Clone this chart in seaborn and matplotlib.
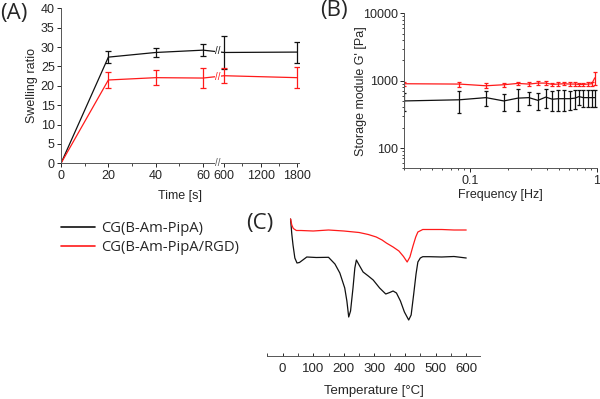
import numpy as np
import pandas as pd
import seaborn as sns
import matplotlib.pyplot as plt
from matplotlib.ticker import FixedLocator, NullFormatter, LogLocator

sns.set_style("ticks")
plt.rcParams['font.family'] = ['Liberation Sans', 'DejaVu Sans']
plt.rcParams['font.size'] = 9

LABEL_BLACK = 'CG(B-Am-PipA)'
LABEL_RED = 'CG(B-Am-PipA/RGD)'

# ---- (A) Swelling ratio ----
time_s = [0, 20, 40, 60, 600, 1800]
swell_black = [0, 27.4, 28.6, 29.2, 28.6, 28.7]
swell_black_err = [0, 1.6, 1.1, 1.5, 4.3, 2.7]
swell_red = [0, 21.5, 22.1, 22.0, 22.6, 22.1]
swell_red_err = [0, 1.95, 1.95, 2.5, 1.9, 2.7]

# ---- (B) Storage modulus ----
freq_hz = [0.03, 0.082, 0.133, 0.184, 0.237, 0.29, 0.342, 0.394, 0.445,
           0.494, 0.55, 0.61, 0.67, 0.72, 0.78, 0.85, 0.91, 0.96]
g_black = [500, 520, 560, 500, 550, 560, 510, 570, 530,
           540, 540, 540, 550, 580, 560, 560, 560, 560]
g_black_err = [150, 190, 140, 140, 190, 130, 140, 180, 170,
               180, 180, 170, 170, 150, 160, 160, 160, 160]
g_red = [900, 890, 840, 870, 910, 890, 920, 920, 880,
         890, 900, 890, 890, 880, 880, 890, 900, 1100]
g_red_err = [60, 80, 70, 60, 50, 60, 60, 70, 50,
             50, 50, 50, 50, 40, 40, 50, 60, 250]

# ---- (C) DTG curves (arbitrary units) ----
temp_black = [26, 30, 34, 40, 47, 55, 66, 79, 110, 150, 171, 187, 203, 210, 216, 222,
              230, 236, 241, 250, 263, 280, 296, 317, 337, 350, 361, 372, 385, 398,
              412, 420, 428, 436, 442, 450, 458, 480, 520, 560, 600]
dtg_black = [137, 122, 111, 98, 93, 93.5, 96, 99, 98.5, 98.7, 92, 83, 68, 55, 39, 45,
             68, 88, 96, 91, 84, 80, 76, 68, 62, 63.5, 65, 63, 55, 44,
             36, 41, 61, 82, 94, 98, 99.3, 99.3, 99, 99.5, 98]
temp_red = [26, 30, 35, 45, 60, 100, 150, 200, 250, 280, 306, 325, 339, 361, 380,
            395, 407, 416, 426, 435, 442, 458, 480, 520, 560, 600]
dtg_red = [137, 131, 127.5, 125.5, 125.5, 125, 126, 125, 123.5, 121.5, 119, 116, 113,
           109, 105, 99.5, 94, 99, 110, 119, 124, 126.5, 126.5, 126.5, 126, 126]

colors = {LABEL_BLACK: '#111111', LABEL_RED: '#ff1a1a'}
lw = 0.9

fig = plt.figure(figsize=(6, 3.99), dpi=100)


# ======== (A) ========
def fwd(t):
    t = np.asarray(t, dtype=float)
    return np.where(t <= 60, t,
                    np.where(t <= 600, 60 + (t - 60) * 8.9 / 540,
                             68.9 + (t - 600) * 30.8 / 1200))


def inv(u):
    u = np.asarray(u, dtype=float)
    return np.where(u <= 60, u,
                    np.where(u <= 68.9, 60 + (u - 60) * 540 / 8.9,
                             600 + (u - 68.9) * 1200 / 30.8))


axA = fig.add_axes([61 / 600, 1 - 163.3 / 399, 238 / 600, 155 / 399])
axA.set_xscale('function', functions=(fwd, inv))
dfA = pd.DataFrame({'t': time_s * 2,
                    'v': swell_black + swell_red,
                    's': [LABEL_BLACK] * len(time_s) + [LABEL_RED] * len(time_s)})
sns.lineplot(data=dfA, x='t', y='v', hue='s', palette=colors, lw=lw,
             legend=False, ax=axA)
axA.errorbar(time_s[1:], swell_black[1:], yerr=swell_black_err[1:], fmt='none',
             ecolor=colors[LABEL_BLACK], elinewidth=lw, capsize=2, capthick=lw)
axA.errorbar(time_s[1:], swell_red[1:], yerr=swell_red_err[1:], fmt='none',
             ecolor=colors[LABEL_RED], elinewidth=lw, capsize=2, capthick=lw)
axA.set_xlim(0, 1831)
axA.set_ylim(0, 40)
axA.xaxis.set_major_locator(FixedLocator([0, 20, 40, 60, 600, 1200, 1800]))
axA.xaxis.set_minor_locator(FixedLocator([10, 30, 50, 900, 1500]))
axA.xaxis.set_minor_formatter(NullFormatter())
axA.set_yticks(range(0, 41, 5))
axA.set_xlabel('Time [s]', labelpad=6)
axA.set_ylabel('Swelling ratio', labelpad=2)
axA.tick_params(length=3, width=0.7, pad=1.5)
axA.tick_params(which='minor', length=2, width=0.6)
sns.despine(ax=axA)
for sp in axA.spines.values():
    sp.set_linewidth(0.7)
    sp.set_color('#555555')
# axis break marks
brk = 442
for yv, c in [(0, '#555555'), (28.9, colors[LABEL_BLACK]), (22.35, colors[LABEL_RED])]:
    axA.text(brk, yv, '//', ha='center', va='center', fontsize=7, color=c,
             clip_on=False, zorder=4,
             bbox=dict(fc='white', ec='none', pad=0.3))

# ======== (B) ========
axB = fig.add_axes([404 / 600, 1 - 168.3 / 399, 193 / 600, 155 / 399])
dfB = pd.DataFrame({'f': freq_hz * 2,
                    'g': g_black + g_red,
                    's': [LABEL_BLACK] * len(freq_hz) + [LABEL_RED] * len(freq_hz)})
sns.lineplot(data=dfB, x='f', y='g', hue='s', palette=colors, lw=lw,
             legend=False, ax=axB)
axB.errorbar(freq_hz, g_black, yerr=g_black_err, fmt='none',
             ecolor=colors[LABEL_BLACK], elinewidth=lw, capsize=1.6, capthick=lw)
axB.errorbar(freq_hz, g_red, yerr=g_red_err, fmt='none',
             ecolor=colors[LABEL_RED], elinewidth=lw, capsize=1.6, capthick=lw)
axB.set_xscale('log')
axB.set_yscale('log')
axB.set_xlim(0.03, 1)
axB.set_ylim(50, 10000)
axB.set_xticks([0.1, 1])
axB.set_xticklabels(['0.1', '1'])
axB.set_yticks([100, 1000, 10000])
axB.set_yticklabels(['100', '1000', '10000'])
axB.yaxis.set_minor_locator(LogLocator(subs=np.arange(2, 10)))
axB.xaxis.set_minor_locator(LogLocator(subs=np.arange(2, 10)))
axB.xaxis.set_minor_formatter(NullFormatter())
axB.yaxis.set_minor_formatter(NullFormatter())
axB.set_xlabel('Frequency [Hz]', labelpad=2)
axB.set_ylabel("Storage module G' [Pa]", labelpad=-3)
axB.tick_params(length=3, width=0.7, pad=1.5)
axB.tick_params(which='minor', length=1.6, width=0.6)
sns.despine(ax=axB)
for sp in axB.spines.values():
    sp.set_linewidth(0.7)
    sp.set_color('#555555')

# ======== (C) ========
axC = fig.add_axes([267 / 600, 1 - 356 / 399, 213 / 600, 146 / 399])
dfC = pd.DataFrame({'T': temp_black + temp_red,
                    'd': dtg_black + dtg_red,
                    's': [LABEL_BLACK] * len(temp_black) + [LABEL_RED] * len(temp_red)})
sns.lineplot(data=dfC, x='T', y='d', hue='s', palette=colors, lw=lw,
             sort=False, ax=axC)
axC.set_xlim(-51, 645)
axC.set_ylim(0, 146)
axC.set_xticks(range(0, 601, 100))
axC.xaxis.set_minor_locator(FixedLocator(range(-50, 651, 50)))
axC.set_yticks([])
axC.set_ylabel('')
axC.set_xlabel('Temperature [°C]', labelpad=7, fontsize=9.5)
axC.tick_params(axis='x', direction='in', length=2.5, width=0.7, pad=5,
                labelsize=9.5)
axC.tick_params(axis='x', which='minor', direction='in', length=2, width=0.6)
sns.despine(ax=axC, left=True)
axC.spines['bottom'].set_linewidth(0.7)
axC.spines['bottom'].set_color('#555555')

# legend to the left of (C)
leg = axC.legend(loc='upper left', bbox_to_anchor=(61 / 600, 1 - 221 / 399),
                 bbox_transform=fig.transFigure, frameon=False, title=None,
                 handlelength=2.3, handletextpad=0.45, labelspacing=0.25,
                 borderpad=0, borderaxespad=0,
                 prop={'family': ['Open Sans', 'DejaVu Sans'], 'size': 10.6})
for h in leg.get_lines():
    h.set_linewidth(1.2)

# panel labels
for txt, x, y in [('(A)', 0 / 600, 3 / 399), ('(B)', 320 / 600, 0 / 399),
                  ('(C)', 246 / 600, 213 / 399)]:
    fig.text(x, 1 - y, txt, ha='left', va='top', fontsize=16,
             family=['Open Sans', 'DejaVu Sans'])

plt.savefig('out.png', dpi=100, facecolor='white')
